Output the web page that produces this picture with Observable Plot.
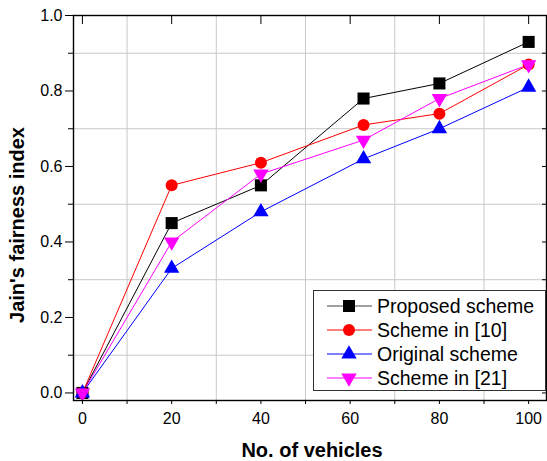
<!DOCTYPE html>
<html>
<head>
<meta charset="utf-8">
<script src="https://cdn.jsdelivr.net/npm/d3@7"></script>
<script src="https://cdn.jsdelivr.net/npm/@observablehq/plot@0.6"></script>
<style>
  html, body { margin: 0; padding: 0; background: #fff; }
  #wrap { position: relative; width: 547px; height: 461px; font-family: "Liberation Sans", Arial, sans-serif; }
  #legend { position: absolute; left: 313px; top: 290px; }
</style>
</head>
<body>
<div id="wrap"></div>
<script>
// ---- data ----
const vehicles = [0, 20, 40, 63, 80, 100];
const proposedScheme = [0, 0.45, 0.55, 0.78, 0.82, 0.93];
const schemeIn10 = [0, 0.55, 0.61, 0.71, 0.74, 0.87];
const originalScheme = [0, 0.33, 0.48, 0.62, 0.70, 0.81];
const schemeIn21 = [0, 0.40, 0.58, 0.67, 0.78, 0.87];
const seriesNames = ["Proposed scheme", "Scheme in [10]", "Original scheme", "Scheme in [21]"];
const seriesValues = [proposedScheme, schemeIn10, originalScheme, schemeIn21];
const seriesColors = ["#000000", "#ff0000", "#0000ff", "#ff00ff"];
const seriesSymbols = ["square", "circle", "triangle", "triangle"];
const seriesRotate = [0, 0, 0, 180];
const seriesR = [6.8, 6, 5.7, 5.7];
const xMajorTicks = [0, 20, 40, 60, 80, 100];
const xMinorTicks = [10, 30, 50, 70, 90];
const yMajorTicks = [0, 0.2, 0.4, 0.6, 0.8, 1.0];
const yMinorTicks = [0.1, 0.3, 0.5, 0.7, 0.9];
const xTitle = "No. of vehicles";
const yTitle = "Jain's fairness index";

const rows = [];
seriesNames.forEach((name, si) => {
  vehicles.forEach((v, i) => rows.push({series: name, si, x: v, y: seriesValues[si][i]}));
});

const font = "Liberation Sans, Arial, sans-serif";
const lineMarks = seriesNames.map((name, si) =>
  Plot.line(rows.filter(d => d.si === si), {x: "x", y: "y", stroke: seriesColors[si], strokeWidth: 1})
);
const dotMarks = seriesNames.map((name, si) =>
  Plot.dot(rows.filter(d => d.si === si), {
    x: "x", y: "y", symbol: () => seriesSymbols[si], fill: seriesColors[si], stroke: "none",
    r: seriesR[si], rotate: seriesRotate[si]
  })
);

const chart = Plot.plot({
  width: 547,
  height: 461,
  marginTop: 15,
  marginLeft: 73,
  marginRight: 1,
  marginBottom: 61,
  style: {fontFamily: font, background: "#fff", color: "#000"},
  x: {domain: [-2, 104], label: null},
  y: {domain: [-0.02, 1.0], label: null},
  symbol: {type: "identity"},
  marks: [
    Plot.ruleX(xMinorTicks, {stroke: "#c8c8c8", strokeWidth: 1}),
    Plot.ruleY(yMinorTicks, {stroke: "#c8c8c8", strokeWidth: 1}),
    ...lineMarks,
    ...dotMarks,
    Plot.frame({stroke: "#000", strokeWidth: 1.4}),
    Plot.axisY({anchor: "left", ticks: yMajorTicks, tickFormat: d3.format(".1f"), tickSize: 8, tickPadding: 3, fontSize: 16, label: null}),
    Plot.axisY({anchor: "left", ticks: yMinorTicks, tickSize: 5, fill: "none", label: null}),
    Plot.axisY({anchor: "right", ticks: yMajorTicks.concat(yMinorTicks), tickSize: -5, fill: "none", label: null}),
    Plot.axisX({anchor: "bottom", ticks: xMajorTicks, tickFormat: d3.format("d"), tickSize: 4, tickPadding: 8, fontSize: 16, label: null}),
    Plot.axisX({anchor: "bottom", ticks: xMinorTicks, tickSize: 4, fill: "none", label: null}),
    Plot.axisX({anchor: "top", ticks: xMajorTicks, tickSize: -8, fill: "none", label: null}),
    Plot.text([xTitle], {frameAnchor: "bottom", dy: 56, fontSize: 20, fontWeight: "bold", text: d => d, fill: "#000", dx: 2}),
    Plot.text([yTitle], {frameAnchor: "left", textAnchor: "middle", dx: -56, dy: 17, rotate: -90, fontSize: 20, fontWeight: "bold", text: d => d, fill: "#000"})
  ]
});

const wrap = document.getElementById("wrap");
wrap.appendChild(chart);

// ---- legend ----
const lw = 232, lh = 100;
const leg = d3.select(wrap).append("svg").attr("id", "legend").attr("width", lw + 1).attr("height", lh + 1);
leg.append("rect").attr("x", 0.5).attr("y", 0.5).attr("width", lw).attr("height", lh)
  .attr("fill", "#fff").attr("stroke", "#333").attr("stroke-width", 1);
seriesNames.forEach((name, si) => {
  const cy = 16 + si * 24;
  const g = leg.append("g");
  g.append("line").attr("x1", 14).attr("x2", 59).attr("y1", cy).attr("y2", cy)
    .attr("stroke", si === 0 ? "#444" : seriesColors[si]).attr("stroke-width", 1.2);
  const sym = {square: d3.symbolSquare, circle: d3.symbolCircle, triangle: d3.symbolTriangle}[seriesSymbols[si]];
  g.append("path").attr("d", d3.symbol(sym, seriesR[si] * seriesR[si] * Math.PI)())
    .attr("transform", `translate(36,${cy}) rotate(${seriesRotate[si]})`)
    .attr("fill", seriesColors[si]);
  g.append("text").attr("x", 64).attr("y", cy).attr("dy", "0.35em")
    .attr("font-family", font).attr("font-size", 19.5).attr("fill", "#000").text(name);
});
</script>
</body>
</html>
